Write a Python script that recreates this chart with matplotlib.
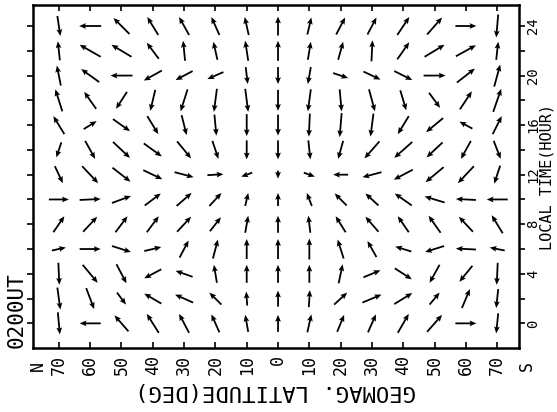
import numpy as np
import matplotlib
matplotlib.use("Agg")
import matplotlib.pyplot as plt

# latitud geomagnetica (N negativo, S positivo) y hora local
lats = [-70, -60, -50, -40, -30, -20, -10, 0, 10, 20, 30, 40, 50, 60, 70]
hours = [24, 22, 20, 18, 16, 14, 12, 10, 8, 6, 4, 2, 0]
lat_labels = ["70", "60", "50", "40", "30", "20", "10", "0",
              "10", "20", "30", "40", "50", "60", "70"]
hour_ticks = [0, 4, 8, 12, 16, 20, 24]

# componentes de las flechas (u: hacia la derecha, v: hacia arriba), una fila por hora
u_rows = [
    [3, -22, -16, -11, -10, -8, -4, 0, 4, 9, 9, 12, 15, 21, -2],
    [-2, -21, -20, -12, -2, -4, -3, 0, 3, 5, 1, 12, 20, 20, 2],
    [-4, -18, -22, -18, -17, -16, 2, 0, -3, 15, 17, 18, 22, 18, 6],
    [-7, -12, -11, -5, -7, -3, 3, 0, -3, 2, 6, 6, 11, 12, 8],
    [-11, 13, 17, 11, 5, 2, 0, 0, -1, -2, -3, -11, -17, -13, 9],
    [-5, 10, 17, 18, 14, 6, 0, 0, 2, -5, -15, -18, -16, -10, 7],
    [8, 16, 18, 19, 19, 16, -11, 0, 11, -15, -19, -19, -18, -16, -6],
    [20, 21, 19, 16, 15, 12, 3, 0, -5, -12, -13, -17, -20, -20, -21],
    [11, 14, 12, 12, 14, 11, 3, 0, -2, -10, -13, -11, -12, -14, -11],
    [14, 21, 19, 17, 9, 5, 0, 0, 0, -6, -9, -16, -19, -20, -15],
    [1, 15, 10, -17, -17, -3, 0, 0, 0, 4, 17, 17, -10, -13, -1],
    [3, 8, 9, -17, -18, -12, -1, 0, 1, 13, 19, 18, 10, 8, -2],
    [2, -21, -14, -12, -10, -8, -3, 0, 4, 7, 8, 11, 15, 21, -2],
]
v_rows = [
    [-20, 0, 16, 18, 18, 18, 18, 19, 17, 17, 17, 18, 17, 0, -23],
    [19, 12, 12, 16, 20, 18, 20, 20, 18, 18, 21, 17, 12, 11, 18],
    [20, 13, 0, -10, -9, -7, -17, -17, -17, -5, -8, -9, 0, 14, 22],
    [22, 17, -17, -21, -22, -23, -23, -21, -22, -22, -22, -20, -15, 18, 23],
    [18, 8, -12, -18, -20, -21, -22, -21, -23, -24, -23, -18, -14, 7, 18],
    [-15, -18, -16, -13, -17, -18, -19, -19, -19, -18, -17, -16, -15, -18, -18],
    [-17, -17, -14, -9, -5, 1, -4, -8, -4, 0, -5, -10, -15, -17, -18],
    [0, 1, 7, 12, 13, 13, 13, 13, 13, 12, 12, 12, 6, 1, 0],
    [16, 15, 16, 16, 15, 14, 17, 17, 17, 16, 15, 16, 17, 15, 18],
    [3, 0, -6, 4, 17, 19, 20, 20, 21, 19, 16, 5, -6, 1, 3],
    [-22, -18, -19, -9, 6, 18, 18, 18, 18, 19, 7, -11, -18, -16, -22],
    [-22, -21, -12, 10, 8, 12, 14, 16, 17, 12, 8, 11, 12, 19, -19],
    [-22, 0, 16, 19, 19, 18, 17, 17, 18, 17, 18, 19, 17, 0, -20],
]

X, Y = np.meshgrid(lats, hours)
U = np.array(u_rows)
V = np.array(v_rows)

fuente = "DejaVu Sans Mono"

fig = plt.figure(figsize=(5.57, 4.12), dpi=100)
ax = fig.add_axes([0.059, 0.155, 0.873, 0.833])

ax.quiver(X, Y, U, V, pivot="middle", angles="uv",
          scale_units="inches", scale=100, units="dots",
          width=1.8, headwidth=3.2, headlength=3.8, headaxislength=3.3,
          color="black")

ax.set_xlim(-78.3, 77.0)
ax.set_ylim(-2.0, 25.7)

for s in ax.spines.values():
    s.set_linewidth(1.8)

# eje inferior: latitudes
ax.set_xticks(lats)
ax.set_xticklabels(lat_labels, rotation=90, family=fuente, fontsize=12)
ax.tick_params(axis="x", direction="in", length=4, width=1.2, pad=5,
               top=True)
ax.text(-76.7, -3.0, "N", rotation=90, family=fuente, fontsize=12,
        ha="center", va="top", clip_on=False)
ax.text(79.5, -3.0, "S", rotation=90, family=fuente, fontsize=12,
        ha="center", va="top", clip_on=False)
ax.set_xlabel("GEOMAG. LATITUDE(DEG)", rotation=180, family=fuente,
              fontsize=16, labelpad=4)

# eje derecho: hora local
ax.yaxis.tick_right()
ax.yaxis.set_label_position("right")
ax.set_yticks(hour_ticks)
ax.set_yticks(np.arange(0, 25, 2), minor=True)
ax.set_yticklabels([str(h) for h in hour_ticks], rotation=90,
                   family=fuente, fontsize=10, va="center")
ax.tick_params(axis="y", which="both", direction="out", length=4,
               width=1.2, pad=1, left=True)
ax.set_ylabel("LOCAL TIME(HOUR)", rotation=90, family=fuente,
              fontsize=11, va="center")
ax.yaxis.set_label_coords(1.057, 0.5)

fig.text(0.03, 0.155, "0200UT", rotation=90, family=fuente, fontsize=15,
         ha="center", va="bottom")

fig.savefig("out.png", dpi=100)
